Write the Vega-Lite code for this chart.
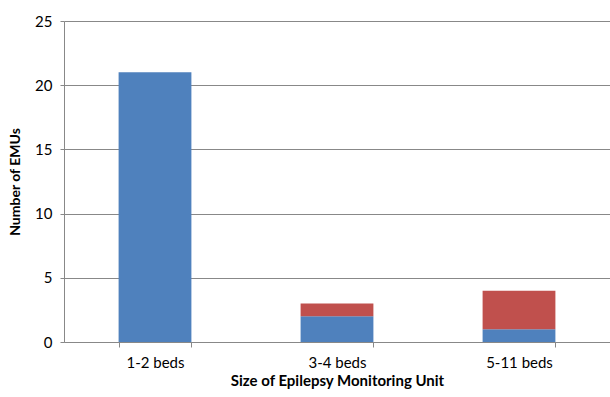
{
  "$schema": "https://vega.github.io/schema/vega-lite/v6.json",
  "autosize": "none",
  "padding": {"left": 64, "top": 21, "right": 0, "bottom": 55},
  "width": 546,
  "height": 321,
  "background": "white",
  "data": {
    "values": [
      {"size": "1-2 beds", "group": "A", "count": 21},
      {"size": "1-2 beds", "group": "B", "count": 0},
      {"size": "3-4 beds", "group": "A", "count": 2},
      {"size": "3-4 beds", "group": "B", "count": 1},
      {"size": "5-11 beds", "group": "A", "count": 1},
      {"size": "5-11 beds", "group": "B", "count": 3}
    ]
  },
  "mark": {"type": "bar"},
  "encoding": {
    "x": {
      "field": "size", "type": "nominal", "sort": null,
      "scale": {"paddingInner": 0.6, "paddingOuter": 0.3},
      "axis": {
        "title": "Size of Epilepsy Monitoring Unit",
        "labelAngle": 0, "labelFont": "Lato", "labelFontSize": 15, "labelColor": "#000",
        "labelPadding": 8,
        "titleFont": "Lato", "titleFontSize": 15, "titleFontWeight": "bold", "titleColor": "#000",
        "titlePadding": 3,
        "domainColor": "#888", "tickColor": "#888", "tickBand": "extent", "tickSize": 5,
        "grid": false
      }
    },
    "y": {
      "field": "count", "type": "quantitative", "aggregate": "sum", "stack": "zero",
      "scale": {"domain": [0, 25]},
      "axis": {
        "title": "Number of EMUs", "values": [0, 5, 10, 15, 20, 25],
        "labelFont": "Lato", "labelFontSize": 15, "labelColor": "#000", "labelPadding": 8,
        "titleFont": "Lato", "titleFontSize": 14, "titleFontWeight": "bold", "titleColor": "#000",
        "titlePadding": 12,
        "domainColor": "#888", "tickColor": "#888", "tickSize": 4,
        "gridColor": "#888", "gridOpacity": 1
      }
    },
    "color": {
      "field": "group", "type": "nominal",
      "scale": {"domain": ["A", "B"], "range": ["#4F81BD", "#C0504D"]},
      "legend": null
    },
    "order": {"field": "group", "sort": "ascending"}
  },
  "config": {"view": {"stroke": null}}
}
